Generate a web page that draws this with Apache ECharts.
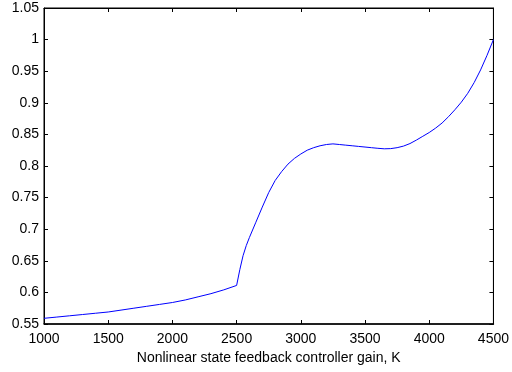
<!DOCTYPE html>
<html><head><meta charset="utf-8">
<script src="https://cdn.jsdelivr.net/npm/echarts@6/dist/echarts.min.js"></script>
<style>html,body{margin:0;padding:0;background:#fff}#c{width:512px;height:372px}</style>
</head><body><div id="c"></div>
<script>
const gainK = [1000,1100,1200,1300,1400,1500,1600,1700,1800,1900,2000,2100,2200,2300,2400,2500,2525,2550,2575,2600,2650,2700,2750,2800,2850,2900,2950,3000,3050,3100,3150,3200,3250,3300,3350,3400,3450,3500,3550,3600,3650,3700,3750,3800,3850,3900,3950,4000,4050,4100,4150,4200,4250,4300,4350,4400,4450,4500];
const response = [0.559,0.561,0.563,0.565,0.567,0.569,0.572,0.575,0.578,0.581,0.584,0.588,0.593,0.598,0.604,0.611,0.636,0.658,0.674,0.687,0.711,0.735,0.758,0.777,0.791,0.803,0.812,0.819,0.825,0.829,0.832,0.834,0.835,0.834,0.833,0.832,0.831,0.830,0.829,0.828,0.8272,0.8275,0.829,0.8315,0.8355,0.841,0.847,0.853,0.860,0.868,0.878,0.889,0.901,0.915,0.932,0.952,0.975,1.0];
const xTicks = {min:1000, max:4500, step:500};
const yTicks = {min:0.55, max:1.05, step:0.05};
const xTitle = 'Nonlinear state feedback controller gain, K';

const font = 'Liberation Sans, Arial, sans-serif';
const chart = echarts.init(document.getElementById('c'), null, {renderer:'canvas'});
const fmtY = v => String(+v.toFixed(2));
const fmtX = v => String(Math.round(v));
chart.setOption({
  animation:false,
  backgroundColor:'#fff',
  grid:{left:44,right:17,top:8,bottom:48,show:true,borderColor:'#000',borderWidth:1,backgroundColor:'#fff'},
  xAxis:[{
    type:'value',min:xTicks.min,max:xTicks.max,interval:xTicks.step,position:'bottom',
    name:xTitle,nameLocation:'middle',nameGap:25,
    nameTextStyle:{color:'#000',fontFamily:font,fontSize:14},
    axisLine:{show:true,onZero:false,lineStyle:{color:'#000',width:1.5}},
    axisTick:{show:true,inside:true,length:4,lineStyle:{color:'#000'}},
    axisLabel:{color:'#000',fontFamily:font,fontSize:14,margin:8,formatter:fmtX},
    splitLine:{show:false}
  },{
    type:'value',min:xTicks.min,max:xTicks.max,interval:xTicks.step,position:'top',
    axisLine:{show:true,onZero:false,lineStyle:{color:'#000'}},
    axisTick:{show:true,inside:true,length:4,lineStyle:{color:'#000'}},
    axisLabel:{show:false},splitLine:{show:false}
  }],
  yAxis:[{
    type:'value',min:yTicks.min,max:yTicks.max,interval:yTicks.step,position:'left',
    axisLine:{show:true,onZero:false,lineStyle:{color:'#000'}},
    axisTick:{show:true,inside:true,length:4,lineStyle:{color:'#000'}},
    axisLabel:{color:'#000',fontFamily:font,fontSize:14,margin:5,formatter:fmtY},
    splitLine:{show:false}
  },{
    type:'value',min:yTicks.min,max:yTicks.max,interval:yTicks.step,position:'right',
    axisLine:{show:true,onZero:false,lineStyle:{color:'#000'}},
    axisTick:{show:true,inside:true,length:4,lineStyle:{color:'#000'}},
    axisLabel:{show:false},splitLine:{show:false}
  }],
  series:[{
    type:'line',xAxisIndex:0,yAxisIndex:0,
    data:gainK.map((k,i)=>[k,response[i]]),
    showSymbol:false,smooth:false,
    lineStyle:{color:'#0000ff',width:1},
    itemStyle:{color:'#0000ff'}
  }]
});
</script></body></html>
